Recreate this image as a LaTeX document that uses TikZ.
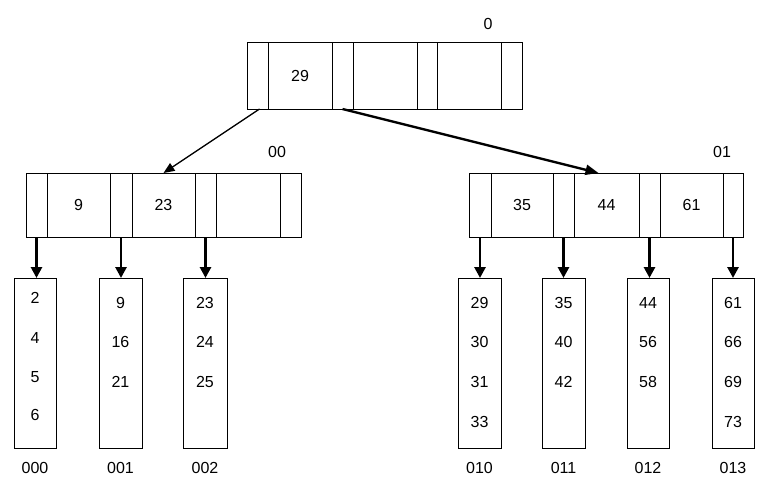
\documentclass[tikz,border=0pt]{standalone}
\usepackage{fontspec}
\setmainfont{Liberation Sans}
\usetikzlibrary{arrows.meta,calc}
\begin{document}
\begin{tikzpicture}[x=1pt,y=-1pt,
  every node/.style={font=\fontsize{16}{19}\selectfont},
  cell/.style={draw,line width=1pt,inner sep=0pt,outer sep=0pt,minimum height=#1},
  rcell/.style={cell=67pt},
  icell/.style={cell=64pt},
  leafbox/.style={draw,line width=1pt,inner sep=0pt,outer sep=0pt,minimum width=43pt,minimum height=170pt},
  ptrarrow/.style={line width=2.8pt,-{Triangle[length=11pt,width=11pt]}},
  thinarrow/.style={line width=1.3pt,-{Triangle[length=11pt,width=9pt]}},
  thickarrow/.style={line width=2.4pt,-{Triangle[length=13pt,width=10pt]}},
  lbl/.style={inner sep=0pt}]
\useasboundingbox (0,0) rectangle (768,493);
% root node
\node[rcell,minimum width=21pt] (r0) at (257.5,75.5) {};
\node[rcell,minimum width=64pt] (r1) at (300,75.5) {29};
\node[rcell,minimum width=21pt] (r2) at (342.5,75.5) {};
\node[rcell,minimum width=64pt] (r3) at (385,75.5) {};
\node[rcell,minimum width=20pt] (r4) at (427,75.5) {};
\node[rcell,minimum width=64pt] (r5) at (469,75.5) {};
\node[rcell,minimum width=21pt] (r6) at (511.5,75.5) {};
\node[lbl] (lr) at (488,24) {0};
% node 00
\node[icell,minimum width=21pt] (a0) at (36.5,205) {};
\node[icell,minimum width=63pt] (a1) at (78.5,205) {9};
\node[icell,minimum width=22pt] (a2) at (121,205) {};
\node[icell,minimum width=63pt] (a3) at (163.5,205) {23};
\node[icell,minimum width=21pt] (a4) at (205.5,205) {};
\node[icell,minimum width=64pt] (a5) at (248,205) {};
\node[icell,minimum width=21pt] (a6) at (290.5,205) {};
\node[lbl] (la) at (277,152) {00};
% node 01
\node[icell,minimum width=22pt] (b0) at (480,205) {};
\node[icell,minimum width=62pt] (b1) at (522,205) {35};
\node[icell,minimum width=21pt] (b2) at (563.5,205) {};
\node[icell,minimum width=65pt] (b3) at (606.5,205) {44};
\node[icell,minimum width=21pt] (b4) at (649.5,205) {};
\node[icell,minimum width=63pt] (b5) at (691.5,205) {61};
\node[icell,minimum width=20pt] (b6) at (733,205) {};
\node[lbl] (lb) at (722,152) {01};
% leaves
\node[leafbox,minimum width=42pt] (L000) at (35,363) {};
\node[leafbox] (L001) at (120.5,363) {};
\node[leafbox,minimum width=44pt] (L002) at (205,363) {};
\node[leafbox] (L010) at (479.5,363) {};
\node[leafbox] (L011) at (563.5,363) {};
\node[leafbox,minimum width=42pt] (L012) at (648,363) {};
\node[leafbox,minimum width=42pt] (L013) at (733,363) {};
% leaf contents
\node (v000a) at (35,298) {2};
\node (v000b) at (35,338) {4};
\node (v000c) at (35,377) {5};
\node (v000d) at (35,415) {6};
\node (v001a) at (120.5,303) {9};
\node (v001b) at (120.5,342) {16};
\node (v001c) at (120.5,382) {21};
\node (v002a) at (205,303) {23};
\node (v002b) at (205,342) {24};
\node (v002c) at (205,382) {25};
\node (v010a) at (479.5,303) {29};
\node (v010b) at (479.5,342) {30};
\node (v010c) at (479.5,382) {31};
\node (v010d) at (479.5,422) {33};
\node (v011a) at (563.5,303) {35};
\node (v011b) at (563.5,342) {40};
\node (v011c) at (563.5,382) {42};
\node (v012a) at (648,303) {44};
\node (v012b) at (648,342) {56};
\node (v012c) at (648,382) {58};
\node (v013a) at (733,303) {61};
\node (v013b) at (733,342) {66};
\node (v013c) at (733,382) {69};
\node (v013d) at (733,422) {73};
% leaf labels
\node (n000) at (35,468) {000};
\node (n001) at (120.5,468) {001};
\node (n002) at (205,468) {002};
\node (n010) at (479.5,468) {010};
\node (n011) at (563.5,468) {011};
\node (n012) at (648,468) {012};
\node (n013) at (733,468) {013};
% root arrows
\draw[thinarrow] ($(r0.south)+(2,0)$) -- (a3.north);
\draw[thickarrow] (r2.south) -- ($(b3.north)+(-8,0)$);
% pointer arrows
\draw[ptrarrow] (a0.south) -- (a0.south |- L000.north);
\draw[ptrarrow] (a2.south) -- (a2.south |- L001.north);
\draw[ptrarrow] (a4.south) -- (a4.south |- L002.north);
\draw[ptrarrow] (b0.south) -- (b0.south |- L010.north);
\draw[ptrarrow] (b2.south) -- (b2.south |- L011.north);
\draw[ptrarrow] (b4.south) -- (b4.south |- L012.north);
\draw[ptrarrow] (b6.south) -- (b6.south |- L013.north);
\end{tikzpicture}
\end{document}
